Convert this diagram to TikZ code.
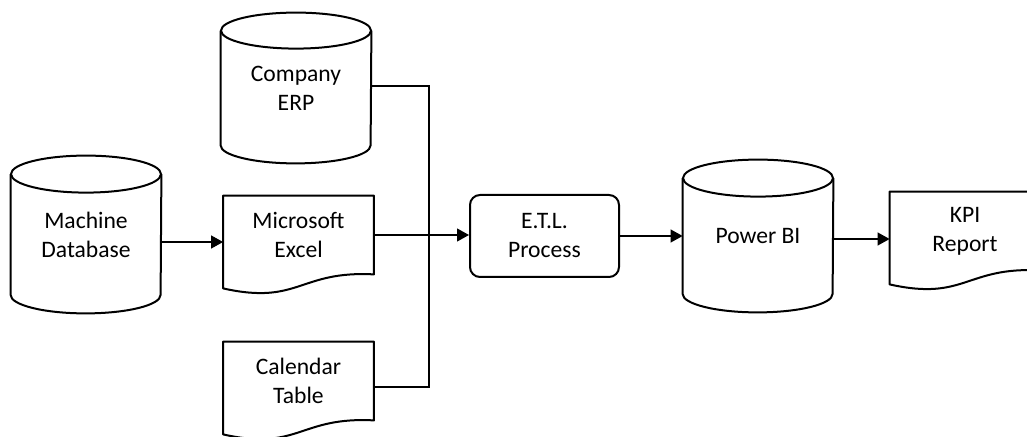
\documentclass[tikz,border=0pt]{standalone}
\usepackage{fontspec}
\setmainfont{Carlito}
\usetikzlibrary{calc,arrows.meta}
\newcommand\cylout[2]{%
  \draw[outl] ($(#1.north west)+(0,#2)$) -- ($(#1.south west)+(0,-#2)$)
    arc[start angle=180,end angle=0,x radius=75,y radius=#2] -- ($(#1.north east)+(0,#2)$);
  \draw[outl] ($(#1.north)+(0,#2)$) ellipse[x radius=75,y radius=#2];}
\newcommand\docout[1]{%
  \draw[outl] ($(#1.south west)+(0,14)$) -- (#1.north west) -- (#1.north east) -- (#1.south east)
    .. controls ($(#1.south west)+(76,-4)$) and ($(#1.south west)+(76,31)$) .. ($(#1.south west)+(0,14)$) -- cycle;}
\begin{document}
\begin{tikzpicture}[x=0.5pt,y=-0.5pt,
  outl/.style={draw=black,line width=1pt,line join=round},
  lbl/.style={inner sep=0pt,align=center,font=\fontsize{11.8}{14.5}\selectfont},
  cylnode/.style={lbl,minimum width=75pt,minimum height=#1},
  docnode/.style={lbl,minimum width=75pt,minimum height=39pt},
  etlnode/.style={lbl,draw=black,line width=1pt,rounded corners=5pt,minimum width=74.5pt,minimum height=41pt},
  conn/.style={line width=0.6pt},
  arr/.style={conn,-{Triangle[length=6pt,width=6.5pt]}}]
\useasboundingbox (0,0) rectangle (1027,437);

\node[cylnode=78.5pt] (mdb) at (86,234.5) {Machine\\Database};
\node[cylnode=75pt] (erp) at (296,88) {Company\\ERP};
\node[cylnode=76pt] (pbi) at (758,236) {Power BI};
\node[docnode] (exc) at (298.5,235) {Microsoft\\Excel};
\node[docnode] (cal) at (298.5,381) {Calendar\\Table};
\node[docnode] (kpi) at (965,231) {KPI\\Report};
\node[etlnode] (etl) at (544.5,236) {E.T.L.\\Process};

\cylout{mdb}{18.5}
\cylout{erp}{18}
\cylout{pbi}{18.5}
\docout{exc}
\docout{cal}
\docout{kpi}

\coordinate (a1) at ([yshift=-3.5pt]exc.west);
\draw[arr] (a1 -| mdb.east) -- (a1);
\draw[arr] (exc.east) -- (exc.east -| etl.west);
\coordinate (j) at (429,236);
\draw[conn] ([yshift=1pt]erp.east) -| (j);
\draw[conn] ([yshift=-3pt]cal.east) -| (j);
\draw[arr] (etl.east) -- (etl.east -| pbi.west);
\coordinate (a2) at ([yshift=-1.5pt]pbi.east);
\draw[arr] (a2) -- (a2 -| kpi.west);
\end{tikzpicture}
\end{document}
